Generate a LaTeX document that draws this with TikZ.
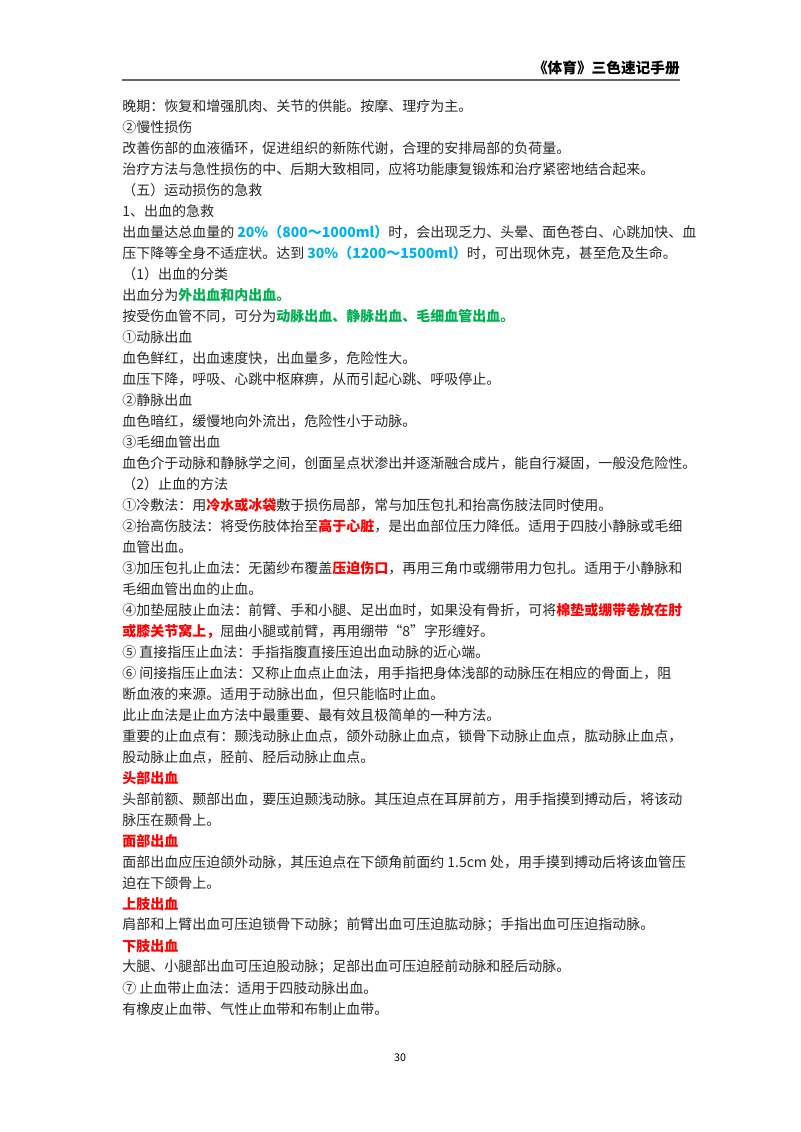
\documentclass[tikz,border=0pt]{standalone}
\usepackage{fontspec}
\setmainfont{Noto Sans CJK SC}
\definecolor{cblue}{RGB}{0,176,240}
\definecolor{cgreen}{RGB}{0,176,80}
\definecolor{cred}{RGB}{255,0,0}
\definecolor{ctext}{RGB}{40,40,40}
\newcommand{\bl}[1]{\textcolor{cblue}{\bfseries #1}}
\newcommand{\gr}[1]{\textcolor{cgreen}{\bfseries #1}}
\newcommand{\rd}[1]{\textcolor{cred}{\bfseries #1}}
\begin{document}
\begin{tikzpicture}[x=0.75pt,y=-0.75pt,
  ln/.style={anchor=west,inner sep=0pt,font=\fontsize{10.5pt}{12pt}\selectfont,text=ctext}]
\useasboundingbox (0,0) rectangle (800,1132);
\fill[white] (0,0) rectangle (800,1132);
\node[anchor=east,inner sep=0pt,font=\fontsize{11pt}{12pt}\selectfont\bfseries] (hd) at (680,68) {《体育》三色速记手册};
\coordinate (l1) at (122,80); \coordinate (l2) at (680,80);
\draw[line width=1.2pt,gray!80!black] (l1) -- (l2);
\foreach \i/\t in {
0/{晚期：恢复和增强肌肉、关节的供能。按摩、理疗为主。},
1/{②慢性损伤},
2/{改善伤部的血液循环，促进组织的新陈代谢，合理的安排局部的负荷量。},
3/{治疗方法与急性损伤的中、后期大致相同，应将功能康复锻炼和治疗紧密地结合起来。},
4/{（五）运动损伤的急救},
5/{1、出血的急救},
6/{出血量达总血量的 \bl{20\%（800～1000ml）}时，会出现乏力、头晕、面色苍白、心跳加快、血},
7/{压下降等全身不适症状。达到 \bl{30\%（1200～1500ml）}时，可出现休克，甚至危及生命。},
8/{（1）出血的分类},
9/{出血分为\gr{外出血和内出血。}},
10/{按受伤血管不同，可分为\gr{动脉出血、静脉出血、毛细血管出血。}},
11/{①动脉出血},
12/{血色鲜红，出血速度快，出血量多，危险性大。},
13/{血压下降，呼吸、心跳中枢麻痹，从而引起心跳、呼吸停止。},
14/{②静脉出血},
15/{血色暗红，缓慢地向外流出，危险性小于动脉。},
16/{③毛细血管出血},
17/{血色介于动脉和静脉学之间，创面呈点状渗出并逐渐融合成片，能自行凝固，一般没危险性。},
18/{（2）止血的方法},
19/{①冷敷法：用\rd{冷水或冰袋}敷于损伤局部，常与加压包扎和抬高伤肢法同时使用。},
20/{②抬高伤肢法：将受伤肢体抬至\rd{高于心脏}，是出血部位压力降低。适用于四肢小静脉或毛细},
21/{血管出血。},
22/{③加压包扎止血法：无菌纱布覆盖\rd{压迫伤口}，再用三角巾或绷带用力包扎。适用于小静脉和},
23/{毛细血管出血的止血。},
24/{④加垫屈肢止血法：前臂、手和小腿、足出血时，如果没有骨折，可将\rd{棉垫或绷带卷放在肘}},
25/{\rd{或膝关节窝上，}屈曲小腿或前臂，再用绷带“8”字形缠好。},
26/{⑤ 直接指压止血法：手指指腹直接压迫出血动脉的近心端。},
27/{⑥ 间接指压止血法：又称止血点止血法，用手指把身体浅部的动脉压在相应的骨面上，阻},
28/{断血液的来源。适用于动脉出血，但只能临时止血。},
29/{此止血法是止血方法中最重要、最有效且极简单的一种方法。},
30/{重要的止血点有：颞浅动脉止血点，颌外动脉止血点，锁骨下动脉止血点，肱动脉止血点，},
31/{股动脉止血点，胫前、胫后动脉止血点。},
32/{\rd{头部出血}},
33/{头部前额、颞部出血，要压迫颞浅动脉。其压迫点在耳屏前方，用手指摸到搏动后，将该动},
34/{脉压在颞骨上。},
35/{\rd{面部出血}},
36/{面部出血应压迫颌外动脉，其压迫点在下颌角前面约 1.5cm 处，用手摸到搏动后将该血管压},
37/{迫在下颌骨上。},
38/{\rd{上肢出血}},
39/{肩部和上臂出血可压迫锁骨下动脉；前臂出血可压迫肱动脉；手指出血可压迫指动脉。},
40/{\rd{下肢出血}},
41/{大腿、小腿部出血可压迫股动脉；足部出血可压迫胫前动脉和胫后动脉。},
42/{⑦ 止血带止血法：适用于四肢动脉出血。},
43/{有橡皮止血带、气性止血带和布制止血带。}}
{\node[ln] (t\i) at (122,{106+21*\i}) {\t};}
\node[inner sep=0pt,font=\fontsize{8pt}{9pt}\selectfont] (pg) at (400,1058) {30};
\end{tikzpicture}
\end{document}
